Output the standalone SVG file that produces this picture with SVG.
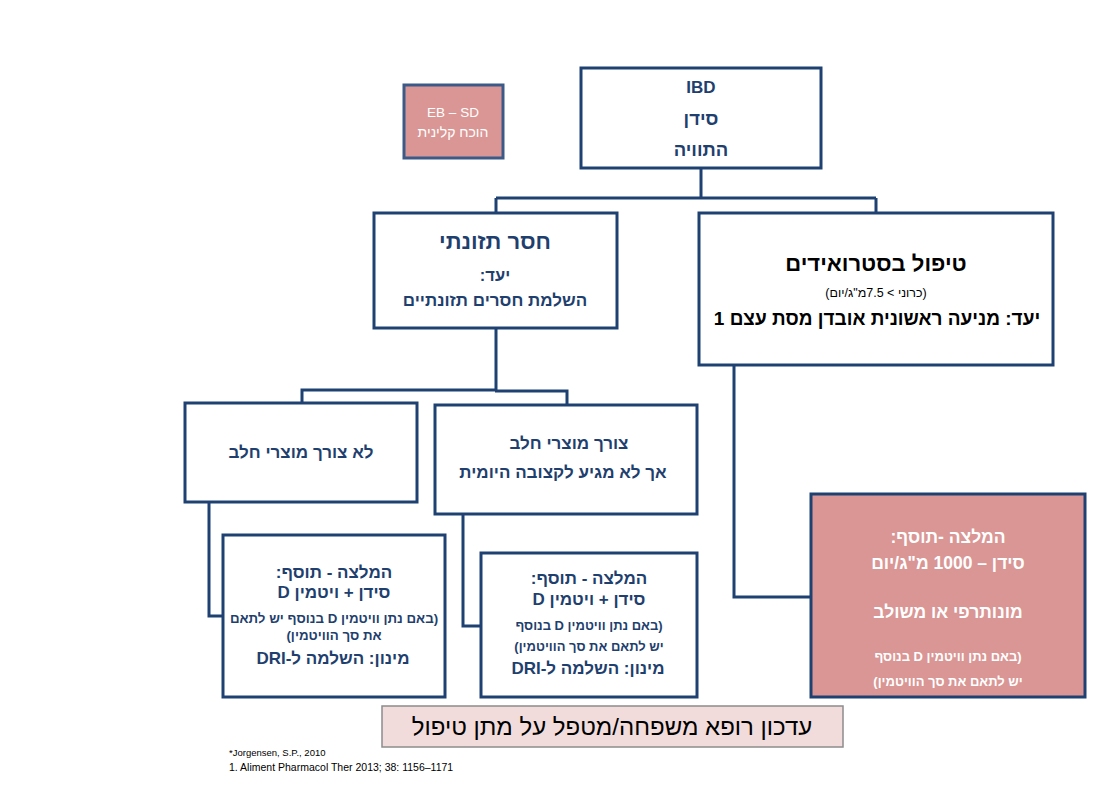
<svg xmlns="http://www.w3.org/2000/svg" width="1115" height="793" viewBox="0 0 1115 793">
<style>
.box{fill:#ffffff;stroke:#1f4172;stroke-width:3}
.pink{fill:#d99694;stroke:#1f4172;stroke-width:3}
.eb{fill:#d99694;stroke:#3c5a88;stroke-width:3}
.note{fill:#f2dcdb;stroke:#8c8c8c;stroke-width:1.5}
.conn{fill:none;stroke:#1f4172;stroke-width:3}
text{font-family:"Liberation Sans","DejaVu Sans",sans-serif;text-anchor:middle}
.he{direction:rtl}
.b{font-weight:bold}
.blue{fill:#1f3f6e}
.blk{fill:#000000}
.wht{fill:#ffffff}
</style>
<rect width="1115" height="793" fill="#ffffff"/>
<g id="connectors">
<path class="conn" d="M701,168 V198 M496,198 H876 M496,198 V213 M876,198 V213"/>
<path class="conn" d="M496,328 V390 H302 V403 M495,391 H567 V405"/>
<path class="conn" d="M734,365 V597 H811"/>
<path class="conn" d="M209,502 V616 H223"/>
<path class="conn" d="M463,514 V626 H481"/>
</g>
<g id="ibd">
<rect class="box" x="581" y="68" width="240" height="100"/>
<text class="b blue" x="701" y="93" font-size="17">IBD</text>
<text class="he b blue" x="701" y="125" font-size="18.5">סידן</text>
<text class="he b blue" x="701" y="156" font-size="18.5">התוויה</text>
</g>
<g id="ebsd">
<rect class="eb" x="404" y="85" width="99" height="73"/>
<text class="wht" x="453" y="117" font-size="13.5">EB – SD</text>
<text class="he wht" x="453" y="137" font-size="14">הוכח קלינית</text>
</g>
<g id="nutrient">
<rect class="box" x="374" y="213" width="243" height="115"/>
<text class="he b blue" x="495" y="249" font-size="22">חסר תזונתי</text>
<text class="he b blue" x="495" y="281" font-size="16.5">יעד:</text>
<text class="he b blue" x="495" y="306" font-size="17">השלמת חסרים תזונתיים</text>
</g>
<g id="steroids">
<rect class="box" x="699" y="213" width="354" height="152"/>
<text class="he b blk" x="876" y="271" font-size="22">טיפול בסטרואידים</text>
<text class="he blk" x="876" y="297" font-size="12.5">(כרוני &gt; 7.5מ"ג/יום)</text>
<text class="he b blk" x="877" y="325" font-size="19">יעד: מניעה ראשונית אובדן מסת עצם 1</text>
</g>
<g id="no-milk">
<rect class="box" x="185" y="403" width="232" height="99"/>
<text class="he b blue" x="301" y="458" font-size="17">לא צורך מוצרי חלב</text>
</g>
<g id="milk">
<rect class="box" x="435" y="405" width="262" height="109"/>
<text class="he b blue" x="569" y="449" font-size="17">צורך מוצרי חלב</text>
<text class="he b blue" x="563" y="478" font-size="17">אך לא מגיע לקצובה היומית</text>
</g>
<g id="rec-left">
<rect class="box" x="223" y="535" width="222" height="162"/>
<text class="he b blue" x="334" y="578" font-size="17">המלצה - תוסף:</text>
<text class="he b blue" x="334" y="598" font-size="17">סידן + ויטמין D</text>
<text class="he b blue" x="334" y="623" font-size="13.3">(באם נתן וויטמין D בנוסף יש לתאם</text>
<text class="he b blue" x="334" y="640" font-size="13.3">את סך הוויטמין)</text>
<text class="he b blue" x="333" y="664" font-size="17">מינון: השלמה ל-DRI</text>
</g>
<g id="rec-mid">
<rect class="box" x="481" y="553" width="216" height="144"/>
<text class="he b blue" x="589" y="584" font-size="17">המלצה - תוסף:</text>
<text class="he b blue" x="589" y="605" font-size="17">סידן + ויטמין D</text>
<text class="he b blue" x="589" y="630" font-size="13">(באם נתן וויטמין D בנוסף</text>
<text class="he b blue" x="589" y="651" font-size="13">יש לתאם את סך הוויטמין)</text>
<text class="he b blue" x="588" y="674" font-size="17">מינון: השלמה ל-DRI</text>
</g>
<g id="rec-right">
<rect class="pink" x="811" y="494" width="274" height="203"/>
<text class="he b wht" x="948" y="543" font-size="17.5">המלצה -תוסף:</text>
<text class="he b wht" x="948" y="569" font-size="17.5">סידן – 1000 מ"ג/יום</text>
<text class="he b wht" x="948" y="618" font-size="17.5">מונותרפי או משולב</text>
<text class="he b wht" x="948" y="661" font-size="13">(באם נתן וויטמין D בנוסף</text>
<text class="he b wht" x="948" y="686" font-size="13">יש לתאם את סך הוויטמין)</text>
</g>
<g id="update">
<rect class="note" x="382" y="706" width="461" height="41"/>
<text class="he blk" x="612" y="735" font-size="24">עדכון רופא משפחה/מטפל על מתן טיפול</text>
</g>
<g id="refs">
<text class="blk" x="229" y="756" font-size="9.5" style="text-anchor:start">*Jorgensen, S.P., 2010</text>
<text class="blk" x="229" y="771" font-size="10.5" style="text-anchor:start">1. Aliment Pharmacol Ther 2013; 38: 1156–1171</text>
</g>
</svg>
